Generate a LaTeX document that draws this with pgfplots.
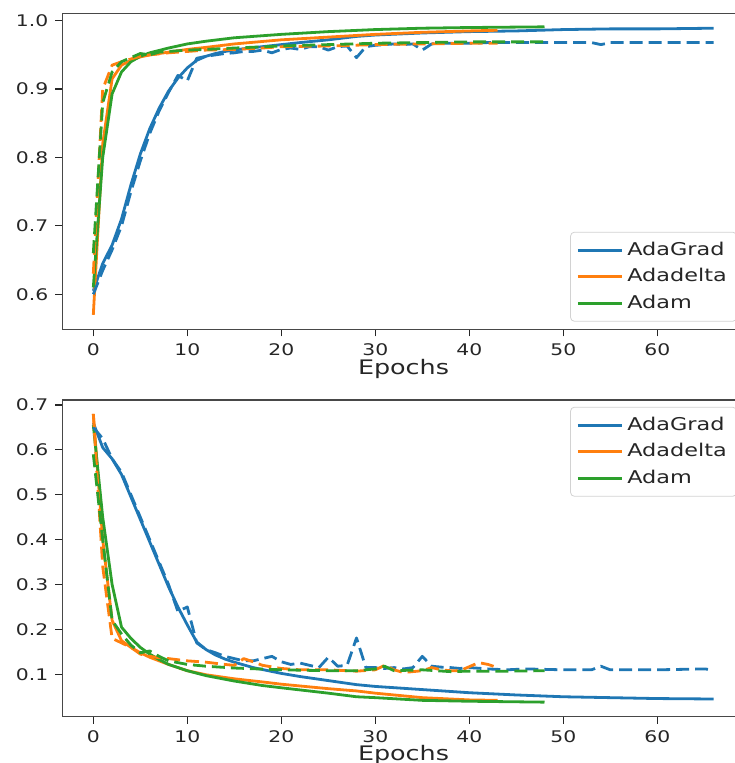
\documentclass[border=0pt]{standalone}
\usepackage{fontspec}
\setmainfont[FakeStretch=1.27]{DejaVu Sans}
\usepackage{pgfplots}
\pgfplotsset{compat=1.18}

\definecolor{cblue}{HTML}{1F77B4}
\definecolor{corange}{HTML}{FF7F0E}
\definecolor{cgreen}{HTML}{2CA02C}
\definecolor{txt}{HTML}{262626}

\pgfplotsset{
  mplstyle/.style={
    scale only axis,
    width=341.2pt,
    xmin=-3.3, xmax=69.3,
    xtick={0,10,20,30,40,50,60},
    xtick pos=left, ytick pos=left,
    tick align=outside,
    major tick length=3.5pt,
    tick style={color=txt, line width=0.6pt},
    axis line style={color=txt!85, line width=0.75pt},
    every tick label/.append style={font=\fontsize{8}{9}\selectfont, text=txt},
    /pgf/number format/assume math mode=true,
    yticklabel style={/pgf/number format/fixed, /pgf/number format/fixed zerofill, /pgf/number format/precision=1},
    xlabel={Epochs},
    xlabel style={font=\fontsize{10}{11}\selectfont, text=txt, yshift=5pt},
    legend cell align=left,
    legend image code/.code={\draw[#1, solid] (0pt,0pt) -- (22pt,0pt);},
    legend style={font=\fontsize{8.8}{10}\selectfont, text=txt, draw=gray!35, rounded corners=2pt,
      fill=white, row sep=1pt, inner sep=3pt},
    every axis plot/.append style={line width=1.4pt, line join=round},
    dsh/.style={dash pattern=on 6.5pt off 3pt},
  }
}

\begin{document}
\begin{tikzpicture}
\path[use as bounding box] (0,0) rectangle (367pt,-381.5pt);

\begin{axis}[mplstyle,
  at={(31.15pt,-6.65pt)}, anchor=north west,
  height=158pt,
  ymin=0.5488, ymax=1.0108,
  ytick={0.6,0.7,0.8,0.9,1.0},
  legend style={at={(axis description cs:1,0)}, anchor=south east, xshift=-3.8pt, yshift=3.8pt},
]
% AdaGrad
\addplot[cblue] coordinates {(0,0.605)(1,0.645)(2,0.672)(3,0.71)(4,0.76)(5,0.805)(6,0.842)(7,0.872)(8,0.897)(9,0.916)(10,0.931)(11,0.942)(12,0.948)(13,0.952)(14,0.955)(16,0.959)(18,0.962)(20,0.965)(22,0.968)(25,0.972)(28,0.977)(30,0.979)(35,0.982)(40,0.984)(45,0.985)(50,0.987)(55,0.988)(60,0.988)(66,0.989)};
\addlegendentry{AdaGrad}
% Adadelta
\addplot[corange] coordinates {(0,0.57)(1,0.82)(2,0.915)(3,0.935)(4,0.942)(5,0.947)(6,0.95)(8,0.954)(10,0.958)(12,0.961)(15,0.966)(20,0.972)(25,0.976)(30,0.98)(35,0.983)(40,0.985)(43,0.986)};
\addlegendentry{Adadelta}
% Adam
\addplot[cgreen] coordinates {(0,0.61)(1,0.80)(2,0.893)(3,0.925)(4,0.94)(5,0.948)(6,0.953)(8,0.96)(10,0.966)(12,0.97)(15,0.975)(20,0.98)(25,0.984)(30,0.987)(35,0.989)(40,0.99)(48,0.991)};
\addlegendentry{Adam}
% validation
\addplot[cblue, dsh, forget plot] coordinates {(0,0.60)(1,0.635)(2,0.665)(3,0.70)(4,0.75)(5,0.795)(6,0.835)(7,0.868)(8,0.895)(9,0.92)(10,0.912)(11,0.945)(12,0.948)(13,0.95)(14,0.952)(15,0.953)(16,0.955)(17,0.955)(18,0.957)(19,0.953)(20,0.958)(21,0.96)(22,0.958)(23,0.962)(24,0.962)(25,0.957)(26,0.962)(27,0.963)(28,0.946)(29,0.962)(30,0.964)(31,0.965)(32,0.966)(33,0.965)(34,0.966)(35,0.957)(36,0.966)(37,0.967)(38,0.967)(40,0.967)(42,0.968)(45,0.968)(48,0.968)(50,0.968)(53,0.968)(54,0.965)(55,0.968)(60,0.968)(66,0.968)};
\addplot[corange, dsh, forget plot] coordinates {(0,0.63)(1,0.9)(2,0.935)(3,0.94)(4,0.944)(5,0.948)(6,0.95)(8,0.953)(10,0.955)(12,0.957)(15,0.958)(18,0.96)(20,0.962)(25,0.963)(30,0.965)(35,0.966)(40,0.967)(43,0.967)};
\addplot[cgreen, dsh, forget plot] coordinates {(0,0.66)(1,0.88)(2,0.925)(3,0.94)(4,0.946)(5,0.952)(6,0.95)(7,0.954)(8,0.955)(10,0.957)(12,0.958)(15,0.96)(20,0.963)(25,0.965)(30,0.967)(35,0.968)(40,0.969)(44,0.969)(48,0.969)};
\end{axis}

\begin{axis}[mplstyle,
  at={(31.15pt,-200pt)}, anchor=north west,
  height=158.3pt,
  ymin=0.0058, ymax=0.711,
  ytick={0.1,0.2,0.3,0.4,0.5,0.6,0.7},
  xlabel style={yshift=0.8pt},
  legend style={at={(axis description cs:1,1)}, anchor=north east, xshift=-3.8pt, yshift=-3.4pt},
]
\addplot[cblue] coordinates {(0,0.66)(1,0.605)(2,0.58)(3,0.545)(4,0.495)(5,0.445)(6,0.395)(7,0.345)(8,0.295)(9,0.25)(10,0.21)(11,0.172)(12,0.155)(13,0.143)(14,0.134)(15,0.127)(17,0.115)(20,0.102)(22,0.095)(25,0.086)(28,0.077)(30,0.073)(35,0.066)(40,0.059)(45,0.054)(50,0.05)(55,0.048)(60,0.046)(66,0.045)};
\addlegendentry{AdaGrad}
\addplot[corange] coordinates {(0,0.68)(1,0.40)(2,0.22)(3,0.175)(4,0.16)(5,0.148)(6,0.138)(8,0.122)(10,0.108)(12,0.099)(15,0.09)(18,0.083)(20,0.078)(25,0.068)(28,0.063)(30,0.058)(35,0.048)(40,0.043)(43,0.042)};
\addlegendentry{Adadelta}
\addplot[cgreen] coordinates {(0,0.655)(1,0.45)(2,0.30)(3,0.205)(4,0.18)(5,0.16)(6,0.145)(7,0.133)(8,0.122)(10,0.108)(12,0.097)(15,0.085)(18,0.075)(20,0.07)(25,0.058)(28,0.05)(30,0.048)(35,0.042)(40,0.04)(48,0.038)};
\addlegendentry{Adam}
\addplot[cblue, dsh, forget plot] coordinates {(0,0.65)(1,0.625)(2,0.58)(3,0.55)(4,0.50)(5,0.45)(6,0.40)(7,0.35)(8,0.30)(9,0.24)(10,0.25)(11,0.17)(12,0.155)(13,0.148)(14,0.14)(15,0.135)(16,0.13)(17,0.13)(18,0.135)(19,0.14)(20,0.128)(21,0.122)(22,0.125)(23,0.12)(24,0.115)(25,0.138)(26,0.118)(27,0.12)(28,0.181)(29,0.115)(30,0.115)(31,0.113)(32,0.115)(33,0.112)(34,0.115)(35,0.14)(36,0.118)(37,0.116)(38,0.115)(39,0.113)(40,0.115)(42,0.112)(44,0.11)(46,0.112)(50,0.11)(53,0.11)(54,0.118)(55,0.11)(60,0.11)(65,0.112)(66,0.11)};
\addplot[corange, dsh, forget plot] coordinates {(0,0.68)(1,0.34)(2,0.18)(3,0.17)(4,0.16)(5,0.145)(6,0.14)(7,0.137)(8,0.135)(10,0.13)(12,0.127)(14,0.122)(15,0.12)(16,0.135)(17,0.128)(18,0.12)(20,0.113)(22,0.11)(25,0.11)(28,0.107)(30,0.11)(31,0.12)(32,0.11)(33,0.104)(35,0.108)(36,0.115)(37,0.11)(38,0.108)(39,0.108)(41,0.126)(42,0.122)(43,0.115)};
\addplot[cgreen, dsh, forget plot] coordinates {(0,0.59)(1,0.40)(2,0.22)(3,0.19)(4,0.165)(5,0.148)(6,0.152)(7,0.14)(8,0.13)(10,0.122)(12,0.118)(15,0.114)(20,0.11)(25,0.108)(28,0.108)(30,0.112)(31,0.118)(32,0.108)(35,0.11)(38,0.106)(40,0.107)(44,0.107)(48,0.108)};
\end{axis}
\end{tikzpicture}
\end{document}
